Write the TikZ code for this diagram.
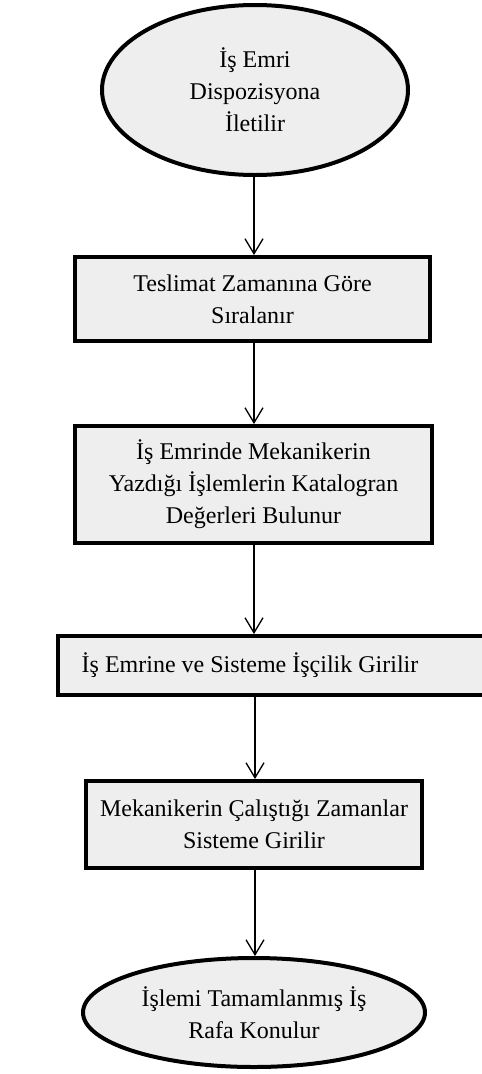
\documentclass[tikz,border=0pt]{standalone}
\usepackage{fontspec}
\setmainfont{Liberation Serif}
\usetikzlibrary{arrows.meta,shapes.geometric}
\definecolor{boxfill}{HTML}{EEEEEE}
\tikzset{
  flowbox/.style={draw=black, line width=4pt, fill=boxfill, rectangle,
    align=center, inner sep=0pt, font=\fontsize{24}{32}\selectfont},
  flowoval/.style={draw=black, line width=4pt, fill=boxfill, ellipse,
    align=center, inner sep=0pt, font=\fontsize{24}{32}\selectfont},
  flowtext/.style={align=center, inner sep=0pt, font=\fontsize{24}{32}\selectfont},
  flowarrow/.style={line width=1.3pt, -{Straight Barb[length=15pt,width=18pt,line width=1.3pt]}}
}
\begin{document}
\begin{tikzpicture}[x=1pt, y=-1pt]
  \useasboundingbox (0,0) rectangle (482,1074);
  \clip (0,0) rectangle (482,1074);

  \node[flowoval, minimum width=306pt, minimum height=170pt] (start) at (255,90)
    {İş Emri\\Dispozisyona\\İletilir};

  \node[flowbox, minimum width=355pt, minimum height=84pt] (sort) at (252.5,299)
    {Teslimat Zamanına Göre\\Sıralanır};

  \node[flowbox, minimum width=357pt, minimum height=117pt] (catalog) at (253.5,484.5)
    {İş Emrinde Mekanikerin\\Yazdığı İşlemlerin Katalogran\\Değerleri Bulunur};

  % this box runs on past the right edge of the page
  \node[flowbox, minimum width=442pt, minimum height=59pt] (labour) at (279,665.5) {};
  \node[flowtext] (labourtext) at (250,665.5) {İş Emrine ve Sisteme İşçilik Girilir};

  \node[flowbox, minimum width=336pt, minimum height=87pt] (times) at (254,824.5)
    {Mekanikerin Çalıştığı Zamanlar\\Sisteme Girilir};

  \node[flowoval, minimum width=342pt, minimum height=109pt] (shelf) at (254,1012.5)
    {İşlemi Tamamlanmış İş\\Rafa Konulur};

  \draw[flowarrow] (start.south -| 254,0) -- (sort.north -| 254,0);
  \draw[flowarrow] (sort.south -| 254,0) -- (catalog.north -| 254,0);
  \draw[flowarrow] (catalog.south -| 254,0) -- (labour.north -| 254,0);
  \draw[flowarrow] (labour.south -| 255,0) -- (times.north -| 255,0);
  \draw[flowarrow] (times.south -| 255,0) -- (shelf.north -| 255,0);
\end{tikzpicture}
\end{document}
